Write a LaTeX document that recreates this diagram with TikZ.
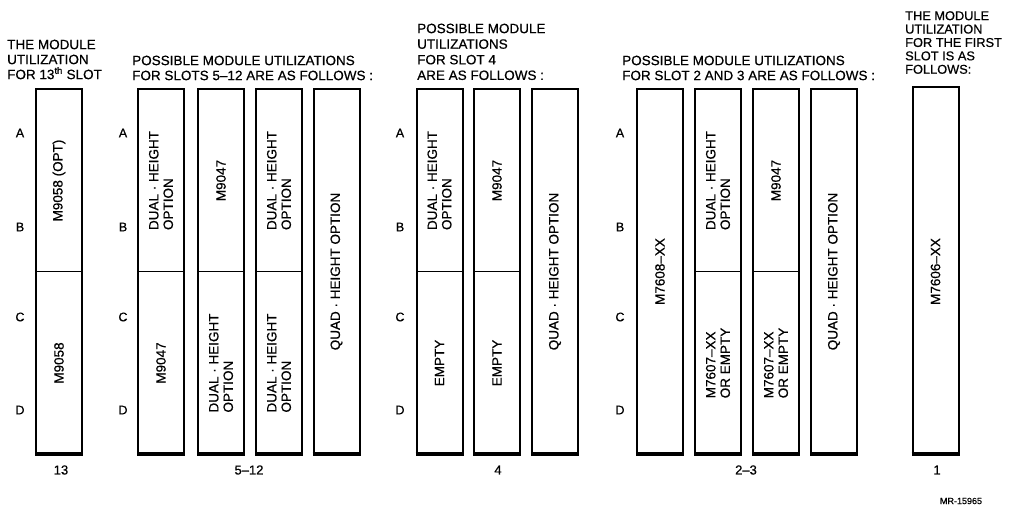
\documentclass[tikz,border=0pt]{standalone}
\usepackage{fontspec}
\setmainfont{Liberation Sans}[FakeBold=0.6]
\begin{document}
\begin{tikzpicture}[x=1pt,y=-1pt,
  slotbox/.style={draw, line width=2pt, minimum width=46pt, minimum height=365pt, inner sep=0pt, outer sep=0pt},
  botline/.style={line width=3.2pt},
  divline/.style={line width=1.5pt},
  cell/.style={rotate=90, align=left, inner sep=0pt, font={\fontsize{13.5}{14.5}\selectfont}},
  hdr/.style={anchor=north west, align=left, inner sep=0pt, font={\fontsize{13.5}{15}\selectfont}},
  rowlbl/.style={inner sep=0pt, font={\fontsize{12.5}{13}\selectfont}},
  slotnum/.style={inner sep=0pt, font={\fontsize{13}{14}\selectfont}},
  tiny/.style={inner sep=0pt, font={\fontsize{9}{10}\selectfont}}]
\useasboundingbox (0,0) rectangle (1018,508);

% headers
\node[hdr] (h13) at (7,39.5) {THE MODULE\\UTILIZATION\\FOR 13\textsuperscript{th} SLOT};
\node[hdr] (h512) at (132,55.5) {POSSIBLE MODULE UTILIZATIONS\\FOR SLOTS 5--12 ARE AS FOLLOWS :};
\node[hdr, font={\fontsize{13.5}{15.6}\selectfont}] (h4) at (417,23.5) {POSSIBLE MODULE\\UTILIZATIONS\\FOR SLOT 4\\ARE AS FOLLOWS :};
\node[hdr] (h23) at (622,55.5) {POSSIBLE MODULE UTILIZATIONS\\FOR SLOT 2 AND 3 ARE AS FOLLOWS :};
\node[hdr, font={\fontsize{12.8}{13.4}\selectfont}] (h1) at (905,11) {THE MODULE\\UTILIZATION\\FOR THE FIRST\\SLOT IS AS\\FOLLOWS:};

% boxes
\node[slotbox] (b13) at (59,271.5) {};
\node[slotbox] (s5a) at (161,271.5) {};
\node[slotbox] (s5b) at (221,271.5) {};
\node[slotbox] (s5c) at (279,271.5) {};
\node[slotbox] (s5d) at (336.5,271.5) {};
\node[slotbox] (s4a) at (439.5,271.5) {};
\node[slotbox] (s4b) at (497,271.5) {};
\node[slotbox] (s4c) at (555,271.5) {};
\node[slotbox] (s2a) at (660,271.5) {};
\node[slotbox] (s2b) at (718,271.5) {};
\node[slotbox] (s2c) at (776,271.5) {};
\node[slotbox] (s2d) at (834,271.5) {};
\node[slotbox, minimum height=367pt] (s1) at (935.5,270.5) {};

% thick bottoms
\foreach \b in {b13,s5a,s5b,s5c,s5d,s4a,s4b,s4c,s2a,s2b,s2c,s2d,s1}
  \draw[botline] ([xshift=-1pt]\b.south west) -- ([xshift=1pt]\b.south east);

% dividers
\foreach \b in {b13,s5a,s5b,s5c,s4a,s4b,s2b,s2c}
  \draw[divline] (\b.west) -- (\b.east);

% cell texts
\node[cell] (t13u) at ([yshift=91pt]b13.center) {M9058 (OPT)};
\node[cell] (t13l) at ([yshift=-91.5pt]b13.center) {M9058};

\node[cell] (t5au) at ([yshift=91pt]s5a.center) {DUAL · HEIGHT\\OPTION};
\node[cell] (t5al) at ([yshift=-91.5pt]s5a.center) {M9047};
\node[cell] (t5bu) at ([yshift=91pt]s5b.center) {M9047};
\node[cell] (t5bl) at ([yshift=-91.5pt]s5b.center) {DUAL · HEIGHT\\OPTION};
\node[cell] (t5cu) at ([yshift=91pt]s5c.center) {DUAL · HEIGHT\\OPTION};
\node[cell] (t5cl) at ([yshift=-91.5pt]s5c.center) {DUAL · HEIGHT\\OPTION};
\node[cell] (t5d) at (s5d.center) {QUAD · HEIGHT OPTION};

\node[cell] (t4au) at ([yshift=91pt]s4a.center) {DUAL · HEIGHT\\OPTION};
\node[cell] (t4al) at ([yshift=-91.5pt]s4a.center) {EMPTY};
\node[cell] (t4bu) at ([yshift=91pt]s4b.center) {M9047};
\node[cell] (t4bl) at ([yshift=-91.5pt]s4b.center) {EMPTY};
\node[cell] (t4c) at (s4c.center) {QUAD · HEIGHT OPTION};

\node[cell] (t2a) at (s2a.center) {M7608--XX};
\node[cell] (t2bu) at ([yshift=91pt]s2b.center) {DUAL · HEIGHT\\OPTION};
\node[cell] (t2bl) at ([yshift=-91.5pt]s2b.center) {M7607--XX\\OR EMPTY};
\node[cell] (t2cu) at ([yshift=91pt]s2c.center) {M9047};
\node[cell] (t2cl) at ([yshift=-91.5pt]s2c.center) {M7607--XX\\OR EMPTY};
\node[cell] (t2d) at (s2d.center) {QUAD · HEIGHT OPTION};

\node[cell] (t1) at ([yshift=-1pt]s1.center) {M7606--XX};

% row letters
\foreach \x/\n in {20/a,123/b,400/c,620/d}{
  \node[rowlbl] (ra\n) at (\x,133) {A};
  \node[rowlbl] (rb\n) at (\x,227) {B};
  \node[rowlbl] (rc\n) at (\x,317) {C};
  \node[rowlbl] (rd\n) at (\x,410) {D};
}

% slot numbers
\node[slotnum] (n13) at (61,470) {13};
\node[slotnum] (n512) at (249,470) {5--12};
\node[slotnum] (n4) at (498,470) {4};
\node[slotnum] (n23) at (746,470) {2--3};
\node[slotnum] (n1) at (937,470) {1};

\node[tiny] (mr) at (961,501) {MR-15965};
\end{tikzpicture}
\end{document}
